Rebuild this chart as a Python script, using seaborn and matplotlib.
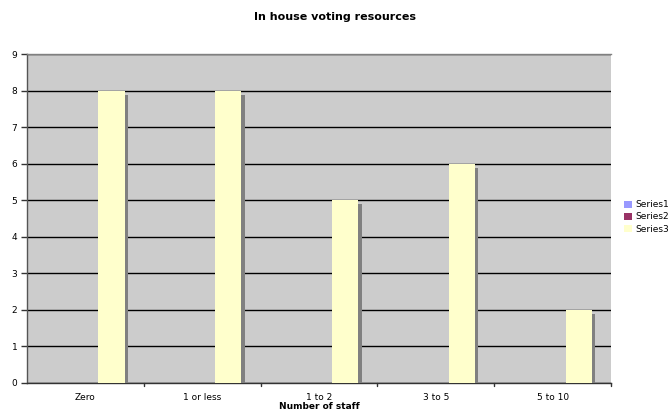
import matplotlib
matplotlib.use("Agg")
import matplotlib.pyplot as plt
import matplotlib.patheffects as pe
from matplotlib.patches import Patch
import seaborn as sns
import pandas as pd

categories = ["Zero", "1 or less", "1 to 2", "3 to 5", "5 to 10"]
series_names = ["Series1", "Series2", "Series3"]
series1 = [0, 0, 0, 0, 0]
series2 = [0, 0, 0, 0, 0]
series3 = [8, 8, 5, 6, 2]
colors = ["#9999FF", "#993366", "#FFFFCC"]

rows = []
for name, vals in zip(series_names, [series1, series2, series3]):
    for c, v in zip(categories, vals):
        rows.append({"staff": c, "series": name, "count": v})
df = pd.DataFrame(rows)

sns.set_style("white")
plt.rcParams["font.family"] = ["DejaVu Sans"]
plt.rcParams["text.color"] = "black"
plt.rcParams["axes.labelcolor"] = "black"
plt.rcParams["xtick.color"] = "black"
plt.rcParams["ytick.color"] = "black"

fig = plt.figure(figsize=(6.69, 4.13), dpi=100)
ax = fig.add_axes([27 / 669, 1 - 383 / 413, 584 / 669, 329 / 413])
ax.set_facecolor("#CCCCCC")

sns.barplot(data=df, x="staff", y="count", hue="series", order=categories,
            hue_order=series_names, palette=colors, width=0.67,
            saturation=1, ax=ax, legend=False, zorder=3)

for bar in ax.patches:
    bar.set_edgecolor("none")
    bar.set_path_effects([pe.SimplePatchShadow(offset=(2.5, -3), shadow_rgbFace="#808080", alpha=1.0),
                          pe.Normal()])

ax.set_ylim(0, 9)
ax.set_xlim(-0.5, 4.5)
ax.set_yticks(range(0, 10))
ax.yaxis.grid(True, color="black", linewidth=1.0, zorder=1)
ax.set_axisbelow(True)

ax.set_xticks(range(5))
ax.set_xticklabels(categories, fontsize=6.5)
ax.tick_params(axis="x", length=0, pad=7)
ax.tick_params(axis="y", labelsize=6.5, length=4, width=1, color="#333333", direction="out", pad=3)
ax.yaxis.set_ticks_position("left")
for x in [0.5, 1.5, 2.5, 3.5, 4.5]:
    ax.plot([x, x], [0, -0.07], color="#333333", lw=1, clip_on=False, zorder=5)

ax.spines["top"].set_color("#808080")
ax.spines["top"].set_linewidth(1)
ax.spines["right"].set_visible(False)
ax.spines["left"].set_color("#555555")
ax.spines["bottom"].set_color("#333333")
ax.spines["left"].set_linewidth(1)
ax.spines["bottom"].set_linewidth(1)

ax.set_xlabel("Number of staff", fontsize=6.5, fontweight="bold", labelpad=0)
ax.set_ylabel("")
fig.text(0.5, 1 - 17 / 413, "In house voting resources", ha="center", va="center",
         fontsize=8, fontweight="bold")

handles = [Patch(facecolor=c, edgecolor="none") for c in colors]
fig.legend(handles, series_names, loc="upper left", bbox_to_anchor=(618 / 669, 1 - 194 / 413),
           frameon=False, fontsize=6.5, handlelength=0.8, handleheight=0.8,
           handletextpad=0.4, labelspacing=0.35, borderpad=0.2)

fig.savefig("out.png", dpi=100)
